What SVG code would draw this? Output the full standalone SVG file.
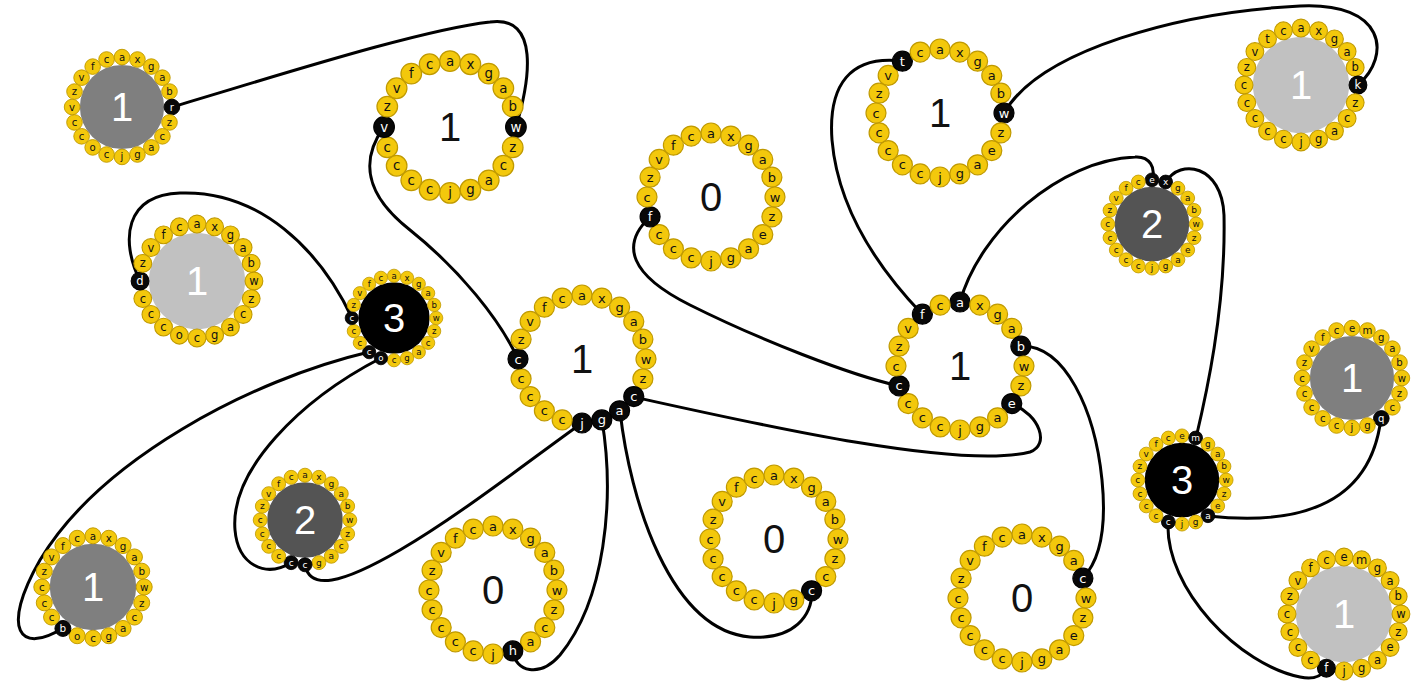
<svg xmlns="http://www.w3.org/2000/svg" width="1416" height="684" viewBox="0 0 1416 684">
<style>
.bd circle{fill:#f3c80c;stroke:#c09a00;stroke-width:1.2}
.bd text{font-family:'DejaVu Sans',Verdana,sans-serif;font-size:13px;text-anchor:middle;dominant-baseline:central;fill:#111}
.bd .k circle{fill:#080808;stroke:#000}
.bd .k text{fill:#fff}
.num{font-family:'Liberation Sans',Arial,sans-serif;font-size:40px;text-anchor:middle;dominant-baseline:central;fill:#111}
.wn{fill:#fff}
.d1{fill:#7f7f7f}.d2{fill:#c1c1c1}.d3{fill:#545454}.d4{fill:#000}
.edges path{fill:none;stroke:#000;stroke-width:3;stroke-linecap:round}
</style>
<rect width="1416" height="684" fill="#fff"/>
<g class="edges">
<path d="M172,107 C280,75 420,30 490,22 C540,15 530,80 516,127"/>
<path d="M384,127 C360,160 365,195 410,230 C460,270 500,320 518,359"/>
<path d="M140,281 C120,240 125,195 180,193 C260,190 320,250 352,318"/>
<path d="M369,352 C250,380 100,460 40,560 C0,630 20,655 63,628"/>
<path d="M381,358 C300,400 230,470 235,530 C238,565 265,578 291,563"/>
<path d="M305,565 C310,590 340,585 400,550 C460,515 530,460 582,423"/>
<path d="M602,420 C615,500 605,600 560,655 C540,678 515,672 513,651"/>
<path d="M620,411 C630,500 670,630 750,637 C795,640 812,615 812,591"/>
<path d="M634,397 C760,425 960,470 1030,452 C1050,445 1040,415 1012,404"/>
<path d="M650,217 C620,245 630,275 690,305 C760,340 850,375 899,386"/>
<path d="M902,61 C850,55 828,85 832,140 C838,210 880,270 922,314"/>
<path d="M1004,113 C1040,50 1180,12 1300,6 C1385,2 1392,55 1358,85"/>
<path d="M960,302 C980,230 1060,160 1135,157 C1150,156 1156,168 1152,180"/>
<path d="M1166,182 C1180,158 1222,165 1224,215 C1226,310 1205,400 1196,438"/>
<path d="M1021,346 C1065,345 1095,410 1102,480 C1107,530 1100,560 1083,578"/>
<path d="M1168,522 C1165,590 1240,665 1300,677 C1315,680 1322,676 1326,668"/>
<path d="M1208,516 C1290,525 1370,510 1381,418"/>
</g>

<g id="n1" transform="translate(122,107)">
<g transform="scale(0.78)"><circle class="d1" r="54"/>
<g class="bd">
<g transform="translate(0,-64)"><circle r="10"/><text>a</text></g>
<g transform="translate(19.8,-60.9)"><circle r="10"/><text>x</text></g>
<g transform="translate(37.6,-51.8)"><circle r="10"/><text>g</text></g>
<g transform="translate(51.8,-37.6)"><circle r="10"/><text>a</text></g>
<g transform="translate(60.9,-19.8)"><circle r="10"/><text>b</text></g>
<g class="k" transform="translate(64,0)"><circle r="10"/><text>r</text></g>
<g transform="translate(60.9,19.8)"><circle r="10"/><text>z</text></g>
<g transform="translate(51.8,37.6)"><circle r="10"/><text>c</text></g>
<g transform="translate(37.6,51.8)"><circle r="10"/><text>a</text></g>
<g transform="translate(19.8,60.9)"><circle r="10"/><text>g</text></g>
<g transform="translate(0,64)"><circle r="10"/><text>j</text></g>
<g transform="translate(-19.8,60.9)"><circle r="10"/><text>c</text></g>
<g transform="translate(-37.6,51.8)"><circle r="10"/><text>o</text></g>
<g transform="translate(-51.8,37.6)"><circle r="10"/><text>c</text></g>
<g transform="translate(-60.9,19.8)"><circle r="10"/><text>c</text></g>
<g transform="translate(-64,0)"><circle r="10"/><text>v</text></g>
<g transform="translate(-60.9,-19.8)"><circle r="10"/><text>z</text></g>
<g transform="translate(-51.8,-37.6)"><circle r="10"/><text>v</text></g>
<g transform="translate(-37.6,-51.8)"><circle r="10"/><text>f</text></g>
<g transform="translate(-19.8,-60.9)"><circle r="10"/><text>c</text></g>
</g></g>
<text class="num wn">1</text>
</g>

<g id="n2" transform="translate(450,127)">
<g transform="scale(1.03)">
<g class="bd">
<g transform="translate(0,-64)"><circle r="10"/><text>a</text></g>
<g transform="translate(19.8,-60.9)"><circle r="10"/><text>x</text></g>
<g transform="translate(37.6,-51.8)"><circle r="10"/><text>g</text></g>
<g transform="translate(51.8,-37.6)"><circle r="10"/><text>a</text></g>
<g transform="translate(60.9,-19.8)"><circle r="10"/><text>b</text></g>
<g class="k" transform="translate(64,0)"><circle r="10"/><text>w</text></g>
<g transform="translate(60.9,19.8)"><circle r="10"/><text>z</text></g>
<g transform="translate(51.8,37.6)"><circle r="10"/><text>c</text></g>
<g transform="translate(37.6,51.8)"><circle r="10"/><text>a</text></g>
<g transform="translate(19.8,60.9)"><circle r="10"/><text>g</text></g>
<g transform="translate(0,64)"><circle r="10"/><text>j</text></g>
<g transform="translate(-19.8,60.9)"><circle r="10"/><text>c</text></g>
<g transform="translate(-37.6,51.8)"><circle r="10"/><text>c</text></g>
<g transform="translate(-51.8,37.6)"><circle r="10"/><text>c</text></g>
<g transform="translate(-60.9,19.8)"><circle r="10"/><text>c</text></g>
<g class="k" transform="translate(-64,0)"><circle r="10"/><text>v</text></g>
<g transform="translate(-60.9,-19.8)"><circle r="10"/><text>z</text></g>
<g transform="translate(-51.8,-37.6)"><circle r="10"/><text>v</text></g>
<g transform="translate(-37.6,-51.8)"><circle r="10"/><text>f</text></g>
<g transform="translate(-19.8,-60.9)"><circle r="10"/><text>c</text></g>
</g></g>
<text class="num">1</text>
</g>

<g id="n3" transform="translate(197,281)">
<g transform="scale(0.89)"><circle class="d2" r="54"/>
<g class="bd">
<g transform="translate(0,-64)"><circle r="10"/><text>a</text></g>
<g transform="translate(19.8,-60.9)"><circle r="10"/><text>x</text></g>
<g transform="translate(37.6,-51.8)"><circle r="10"/><text>g</text></g>
<g transform="translate(51.8,-37.6)"><circle r="10"/><text>a</text></g>
<g transform="translate(60.9,-19.8)"><circle r="10"/><text>b</text></g>
<g transform="translate(64,0)"><circle r="10"/><text>w</text></g>
<g transform="translate(60.9,19.8)"><circle r="10"/><text>z</text></g>
<g transform="translate(51.8,37.6)"><circle r="10"/><text>c</text></g>
<g transform="translate(37.6,51.8)"><circle r="10"/><text>a</text></g>
<g transform="translate(19.8,60.9)"><circle r="10"/><text>g</text></g>
<g transform="translate(0,64)"><circle r="10"/><text>c</text></g>
<g transform="translate(-19.8,60.9)"><circle r="10"/><text>o</text></g>
<g transform="translate(-37.6,51.8)"><circle r="10"/><text>c</text></g>
<g transform="translate(-51.8,37.6)"><circle r="10"/><text>c</text></g>
<g transform="translate(-60.9,19.8)"><circle r="10"/><text>c</text></g>
<g class="k" transform="translate(-64,0)"><circle r="10"/><text>d</text></g>
<g transform="translate(-60.9,-19.8)"><circle r="10"/><text>z</text></g>
<g transform="translate(-51.8,-37.6)"><circle r="10"/><text>v</text></g>
<g transform="translate(-37.6,-51.8)"><circle r="10"/><text>f</text></g>
<g transform="translate(-19.8,-60.9)"><circle r="10"/><text>c</text></g>
</g></g>
<text class="num wn">1</text>
</g>

<g id="n4" transform="translate(394,318)">
<g transform="scale(0.66)"><circle class="d4" r="54"/>
<g class="bd">
<g transform="translate(0,-64)"><circle r="10"/><text>a</text></g>
<g transform="translate(19.8,-60.9)"><circle r="10"/><text>x</text></g>
<g transform="translate(37.6,-51.8)"><circle r="10"/><text>g</text></g>
<g transform="translate(51.8,-37.6)"><circle r="10"/><text>a</text></g>
<g transform="translate(60.9,-19.8)"><circle r="10"/><text>b</text></g>
<g transform="translate(64,0)"><circle r="10"/><text>w</text></g>
<g transform="translate(60.9,19.8)"><circle r="10"/><text>z</text></g>
<g transform="translate(51.8,37.6)"><circle r="10"/><text>c</text></g>
<g transform="translate(37.6,51.8)"><circle r="10"/><text>a</text></g>
<g transform="translate(19.8,60.9)"><circle r="10"/><text>g</text></g>
<g transform="translate(0,64)"><circle r="10"/><text>c</text></g>
<g class="k" transform="translate(-19.8,60.9)"><circle r="10"/><text>o</text></g>
<g class="k" transform="translate(-37.6,51.8)"><circle r="10"/><text>c</text></g>
<g transform="translate(-51.8,37.6)"><circle r="10"/><text>c</text></g>
<g transform="translate(-60.9,19.8)"><circle r="10"/><text>c</text></g>
<g class="k" transform="translate(-64,0)"><circle r="10"/><text>c</text></g>
<g transform="translate(-60.9,-19.8)"><circle r="10"/><text>z</text></g>
<g transform="translate(-51.8,-37.6)"><circle r="10"/><text>v</text></g>
<g transform="translate(-37.6,-51.8)"><circle r="10"/><text>f</text></g>
<g transform="translate(-19.8,-60.9)"><circle r="10"/><text>c</text></g>
</g></g>
<text class="num wn">3</text>
</g>

<g id="n5" transform="translate(582,359)">
<g class="bd">
<g transform="translate(0,-64)"><circle r="10"/><text>a</text></g>
<g transform="translate(19.8,-60.9)"><circle r="10"/><text>x</text></g>
<g transform="translate(37.6,-51.8)"><circle r="10"/><text>g</text></g>
<g transform="translate(51.8,-37.6)"><circle r="10"/><text>a</text></g>
<g transform="translate(60.9,-19.8)"><circle r="10"/><text>b</text></g>
<g transform="translate(64,0)"><circle r="10"/><text>w</text></g>
<g transform="translate(60.9,19.8)"><circle r="10"/><text>z</text></g>
<g class="k" transform="translate(51.8,37.6)"><circle r="10"/><text>c</text></g>
<g class="k" transform="translate(37.6,51.8)"><circle r="10"/><text>a</text></g>
<g class="k" transform="translate(19.8,60.9)"><circle r="10"/><text>g</text></g>
<g class="k" transform="translate(0,64)"><circle r="10"/><text>j</text></g>
<g transform="translate(-19.8,60.9)"><circle r="10"/><text>c</text></g>
<g transform="translate(-37.6,51.8)"><circle r="10"/><text>c</text></g>
<g transform="translate(-51.8,37.6)"><circle r="10"/><text>c</text></g>
<g transform="translate(-60.9,19.8)"><circle r="10"/><text>c</text></g>
<g class="k" transform="translate(-64,0)"><circle r="10"/><text>c</text></g>
<g transform="translate(-60.9,-19.8)"><circle r="10"/><text>z</text></g>
<g transform="translate(-51.8,-37.6)"><circle r="10"/><text>v</text></g>
<g transform="translate(-37.6,-51.8)"><circle r="10"/><text>f</text></g>
<g transform="translate(-19.8,-60.9)"><circle r="10"/><text>c</text></g>
</g>
<text class="num">1</text>
</g>

<g id="n6" transform="translate(93,587)">
<g transform="scale(0.8)"><circle class="d1" r="54"/>
<g class="bd">
<g transform="translate(0,-64)"><circle r="10"/><text>a</text></g>
<g transform="translate(19.8,-60.9)"><circle r="10"/><text>x</text></g>
<g transform="translate(37.6,-51.8)"><circle r="10"/><text>g</text></g>
<g transform="translate(51.8,-37.6)"><circle r="10"/><text>a</text></g>
<g transform="translate(60.9,-19.8)"><circle r="10"/><text>b</text></g>
<g transform="translate(64,0)"><circle r="10"/><text>w</text></g>
<g transform="translate(60.9,19.8)"><circle r="10"/><text>z</text></g>
<g transform="translate(51.8,37.6)"><circle r="10"/><text>c</text></g>
<g transform="translate(37.6,51.8)"><circle r="10"/><text>a</text></g>
<g transform="translate(19.8,60.9)"><circle r="10"/><text>g</text></g>
<g transform="translate(0,64)"><circle r="10"/><text>c</text></g>
<g transform="translate(-19.8,60.9)"><circle r="10"/><text>o</text></g>
<g class="k" transform="translate(-37.6,51.8)"><circle r="10"/><text>b</text></g>
<g transform="translate(-51.8,37.6)"><circle r="10"/><text>c</text></g>
<g transform="translate(-60.9,19.8)"><circle r="10"/><text>c</text></g>
<g transform="translate(-64,0)"><circle r="10"/><text>c</text></g>
<g transform="translate(-60.9,-19.8)"><circle r="10"/><text>z</text></g>
<g transform="translate(-51.8,-37.6)"><circle r="10"/><text>v</text></g>
<g transform="translate(-37.6,-51.8)"><circle r="10"/><text>f</text></g>
<g transform="translate(-19.8,-60.9)"><circle r="10"/><text>c</text></g>
</g></g>
<text class="num wn">1</text>
</g>

<g id="n7" transform="translate(305,520)">
<g transform="scale(0.70)"><circle class="d3" r="54"/>
<g class="bd">
<g transform="translate(0,-64)"><circle r="10"/><text>a</text></g>
<g transform="translate(19.8,-60.9)"><circle r="10"/><text>x</text></g>
<g transform="translate(37.6,-51.8)"><circle r="10"/><text>g</text></g>
<g transform="translate(51.8,-37.6)"><circle r="10"/><text>a</text></g>
<g transform="translate(60.9,-19.8)"><circle r="10"/><text>b</text></g>
<g transform="translate(64,0)"><circle r="10"/><text>w</text></g>
<g transform="translate(60.9,19.8)"><circle r="10"/><text>z</text></g>
<g transform="translate(51.8,37.6)"><circle r="10"/><text>c</text></g>
<g transform="translate(37.6,51.8)"><circle r="10"/><text>a</text></g>
<g transform="translate(19.8,60.9)"><circle r="10"/><text>g</text></g>
<g class="k" transform="translate(0,64)"><circle r="10"/><text>c</text></g>
<g class="k" transform="translate(-19.8,60.9)"><circle r="10"/><text>c</text></g>
<g transform="translate(-37.6,51.8)"><circle r="10"/><text>c</text></g>
<g transform="translate(-51.8,37.6)"><circle r="10"/><text>c</text></g>
<g transform="translate(-60.9,19.8)"><circle r="10"/><text>c</text></g>
<g transform="translate(-64,0)"><circle r="10"/><text>c</text></g>
<g transform="translate(-60.9,-19.8)"><circle r="10"/><text>z</text></g>
<g transform="translate(-51.8,-37.6)"><circle r="10"/><text>v</text></g>
<g transform="translate(-37.6,-51.8)"><circle r="10"/><text>f</text></g>
<g transform="translate(-19.8,-60.9)"><circle r="10"/><text>c</text></g>
</g></g>
<text class="num wn">2</text>
</g>

<g id="n8" transform="translate(493,590)">
<g class="bd">
<g transform="translate(0,-64)"><circle r="10"/><text>a</text></g>
<g transform="translate(19.8,-60.9)"><circle r="10"/><text>x</text></g>
<g transform="translate(37.6,-51.8)"><circle r="10"/><text>g</text></g>
<g transform="translate(51.8,-37.6)"><circle r="10"/><text>a</text></g>
<g transform="translate(60.9,-19.8)"><circle r="10"/><text>b</text></g>
<g transform="translate(64,0)"><circle r="10"/><text>w</text></g>
<g transform="translate(60.9,19.8)"><circle r="10"/><text>z</text></g>
<g transform="translate(51.8,37.6)"><circle r="10"/><text>c</text></g>
<g transform="translate(37.6,51.8)"><circle r="10"/><text>a</text></g>
<g class="k" transform="translate(19.8,60.9)"><circle r="10"/><text>h</text></g>
<g transform="translate(0,64)"><circle r="10"/><text>j</text></g>
<g transform="translate(-19.8,60.9)"><circle r="10"/><text>c</text></g>
<g transform="translate(-37.6,51.8)"><circle r="10"/><text>c</text></g>
<g transform="translate(-51.8,37.6)"><circle r="10"/><text>c</text></g>
<g transform="translate(-60.9,19.8)"><circle r="10"/><text>c</text></g>
<g transform="translate(-64,0)"><circle r="10"/><text>c</text></g>
<g transform="translate(-60.9,-19.8)"><circle r="10"/><text>z</text></g>
<g transform="translate(-51.8,-37.6)"><circle r="10"/><text>v</text></g>
<g transform="translate(-37.6,-51.8)"><circle r="10"/><text>f</text></g>
<g transform="translate(-19.8,-60.9)"><circle r="10"/><text>c</text></g>
</g>
<text class="num">0</text>
</g>

<g id="n9" transform="translate(774,539)">
<g class="bd">
<g transform="translate(0,-64)"><circle r="10"/><text>a</text></g>
<g transform="translate(19.8,-60.9)"><circle r="10"/><text>x</text></g>
<g transform="translate(37.6,-51.8)"><circle r="10"/><text>g</text></g>
<g transform="translate(51.8,-37.6)"><circle r="10"/><text>a</text></g>
<g transform="translate(60.9,-19.8)"><circle r="10"/><text>b</text></g>
<g transform="translate(64,0)"><circle r="10"/><text>w</text></g>
<g transform="translate(60.9,19.8)"><circle r="10"/><text>z</text></g>
<g transform="translate(51.8,37.6)"><circle r="10"/><text>c</text></g>
<g class="k" transform="translate(37.6,51.8)"><circle r="10"/><text>c</text></g>
<g transform="translate(19.8,60.9)"><circle r="10"/><text>g</text></g>
<g transform="translate(0,64)"><circle r="10"/><text>j</text></g>
<g transform="translate(-19.8,60.9)"><circle r="10"/><text>c</text></g>
<g transform="translate(-37.6,51.8)"><circle r="10"/><text>c</text></g>
<g transform="translate(-51.8,37.6)"><circle r="10"/><text>c</text></g>
<g transform="translate(-60.9,19.8)"><circle r="10"/><text>c</text></g>
<g transform="translate(-64,0)"><circle r="10"/><text>c</text></g>
<g transform="translate(-60.9,-19.8)"><circle r="10"/><text>z</text></g>
<g transform="translate(-51.8,-37.6)"><circle r="10"/><text>v</text></g>
<g transform="translate(-37.6,-51.8)"><circle r="10"/><text>f</text></g>
<g transform="translate(-19.8,-60.9)"><circle r="10"/><text>c</text></g>
</g>
<text class="num">0</text>
</g>

<g id="n10" transform="translate(711,197)">
<g class="bd">
<g transform="translate(0,-64)"><circle r="10"/><text>a</text></g>
<g transform="translate(19.8,-60.9)"><circle r="10"/><text>x</text></g>
<g transform="translate(37.6,-51.8)"><circle r="10"/><text>g</text></g>
<g transform="translate(51.8,-37.6)"><circle r="10"/><text>a</text></g>
<g transform="translate(60.9,-19.8)"><circle r="10"/><text>b</text></g>
<g transform="translate(64,0)"><circle r="10"/><text>w</text></g>
<g transform="translate(60.9,19.8)"><circle r="10"/><text>z</text></g>
<g transform="translate(51.8,37.6)"><circle r="10"/><text>e</text></g>
<g transform="translate(37.6,51.8)"><circle r="10"/><text>a</text></g>
<g transform="translate(19.8,60.9)"><circle r="10"/><text>g</text></g>
<g transform="translate(0,64)"><circle r="10"/><text>j</text></g>
<g transform="translate(-19.8,60.9)"><circle r="10"/><text>c</text></g>
<g transform="translate(-37.6,51.8)"><circle r="10"/><text>c</text></g>
<g transform="translate(-51.8,37.6)"><circle r="10"/><text>c</text></g>
<g class="k" transform="translate(-60.9,19.8)"><circle r="10"/><text>f</text></g>
<g transform="translate(-64,0)"><circle r="10"/><text>c</text></g>
<g transform="translate(-60.9,-19.8)"><circle r="10"/><text>z</text></g>
<g transform="translate(-51.8,-37.6)"><circle r="10"/><text>v</text></g>
<g transform="translate(-37.6,-51.8)"><circle r="10"/><text>f</text></g>
<g transform="translate(-19.8,-60.9)"><circle r="10"/><text>c</text></g>
</g>
<text class="num">0</text>
</g>

<g id="n11" transform="translate(940,113)">
<g class="bd">
<g transform="translate(0,-64)"><circle r="10"/><text>a</text></g>
<g transform="translate(19.8,-60.9)"><circle r="10"/><text>x</text></g>
<g transform="translate(37.6,-51.8)"><circle r="10"/><text>g</text></g>
<g transform="translate(51.8,-37.6)"><circle r="10"/><text>a</text></g>
<g transform="translate(60.9,-19.8)"><circle r="10"/><text>b</text></g>
<g class="k" transform="translate(64,0)"><circle r="10"/><text>w</text></g>
<g transform="translate(60.9,19.8)"><circle r="10"/><text>z</text></g>
<g transform="translate(51.8,37.6)"><circle r="10"/><text>e</text></g>
<g transform="translate(37.6,51.8)"><circle r="10"/><text>a</text></g>
<g transform="translate(19.8,60.9)"><circle r="10"/><text>g</text></g>
<g transform="translate(0,64)"><circle r="10"/><text>j</text></g>
<g transform="translate(-19.8,60.9)"><circle r="10"/><text>c</text></g>
<g transform="translate(-37.6,51.8)"><circle r="10"/><text>c</text></g>
<g transform="translate(-51.8,37.6)"><circle r="10"/><text>c</text></g>
<g transform="translate(-60.9,19.8)"><circle r="10"/><text>c</text></g>
<g transform="translate(-64,0)"><circle r="10"/><text>c</text></g>
<g transform="translate(-60.9,-19.8)"><circle r="10"/><text>z</text></g>
<g transform="translate(-51.8,-37.6)"><circle r="10"/><text>v</text></g>
<g class="k" transform="translate(-37.6,-51.8)"><circle r="10"/><text>t</text></g>
<g transform="translate(-19.8,-60.9)"><circle r="10"/><text>c</text></g>
</g>
<text class="num">1</text>
</g>

<g id="n12" transform="translate(1301,85)">
<g transform="scale(0.89)"><circle class="d2" r="54"/>
<g class="bd">
<g transform="translate(0,-64)"><circle r="10"/><text>a</text></g>
<g transform="translate(19.8,-60.9)"><circle r="10"/><text>x</text></g>
<g transform="translate(37.6,-51.8)"><circle r="10"/><text>g</text></g>
<g transform="translate(51.8,-37.6)"><circle r="10"/><text>a</text></g>
<g transform="translate(60.9,-19.8)"><circle r="10"/><text>b</text></g>
<g class="k" transform="translate(64,0)"><circle r="10"/><text>k</text></g>
<g transform="translate(60.9,19.8)"><circle r="10"/><text>z</text></g>
<g transform="translate(51.8,37.6)"><circle r="10"/><text>c</text></g>
<g transform="translate(37.6,51.8)"><circle r="10"/><text>a</text></g>
<g transform="translate(19.8,60.9)"><circle r="10"/><text>g</text></g>
<g transform="translate(0,64)"><circle r="10"/><text>j</text></g>
<g transform="translate(-19.8,60.9)"><circle r="10"/><text>c</text></g>
<g transform="translate(-37.6,51.8)"><circle r="10"/><text>c</text></g>
<g transform="translate(-51.8,37.6)"><circle r="10"/><text>c</text></g>
<g transform="translate(-60.9,19.8)"><circle r="10"/><text>c</text></g>
<g transform="translate(-64,0)"><circle r="10"/><text>c</text></g>
<g transform="translate(-60.9,-19.8)"><circle r="10"/><text>z</text></g>
<g transform="translate(-51.8,-37.6)"><circle r="10"/><text>v</text></g>
<g transform="translate(-37.6,-51.8)"><circle r="10"/><text>t</text></g>
<g transform="translate(-19.8,-60.9)"><circle r="10"/><text>c</text></g>
</g></g>
<text class="num wn">1</text>
</g>

<g id="n13" transform="translate(1152,224)">
<g transform="scale(0.69)"><circle class="d3" r="54"/>
<g class="bd">
<g class="k" transform="translate(0,-64)"><circle r="10"/><text>e</text></g>
<g class="k" transform="translate(19.8,-60.9)"><circle r="10"/><text>x</text></g>
<g transform="translate(37.6,-51.8)"><circle r="10"/><text>g</text></g>
<g transform="translate(51.8,-37.6)"><circle r="10"/><text>a</text></g>
<g transform="translate(60.9,-19.8)"><circle r="10"/><text>b</text></g>
<g transform="translate(64,0)"><circle r="10"/><text>w</text></g>
<g transform="translate(60.9,19.8)"><circle r="10"/><text>z</text></g>
<g transform="translate(51.8,37.6)"><circle r="10"/><text>e</text></g>
<g transform="translate(37.6,51.8)"><circle r="10"/><text>a</text></g>
<g transform="translate(19.8,60.9)"><circle r="10"/><text>g</text></g>
<g transform="translate(0,64)"><circle r="10"/><text>j</text></g>
<g transform="translate(-19.8,60.9)"><circle r="10"/><text>c</text></g>
<g transform="translate(-37.6,51.8)"><circle r="10"/><text>c</text></g>
<g transform="translate(-51.8,37.6)"><circle r="10"/><text>c</text></g>
<g transform="translate(-60.9,19.8)"><circle r="10"/><text>c</text></g>
<g transform="translate(-64,0)"><circle r="10"/><text>c</text></g>
<g transform="translate(-60.9,-19.8)"><circle r="10"/><text>z</text></g>
<g transform="translate(-51.8,-37.6)"><circle r="10"/><text>v</text></g>
<g transform="translate(-37.6,-51.8)"><circle r="10"/><text>f</text></g>
<g transform="translate(-19.8,-60.9)"><circle r="10"/><text>c</text></g>
</g></g>
<text class="num wn">2</text>
</g>

<g id="n14" transform="translate(960,366)">
<g class="bd">
<g class="k" transform="translate(0,-64)"><circle r="10"/><text>a</text></g>
<g transform="translate(19.8,-60.9)"><circle r="10"/><text>x</text></g>
<g transform="translate(37.6,-51.8)"><circle r="10"/><text>g</text></g>
<g transform="translate(51.8,-37.6)"><circle r="10"/><text>a</text></g>
<g class="k" transform="translate(60.9,-19.8)"><circle r="10"/><text>b</text></g>
<g transform="translate(64,0)"><circle r="10"/><text>w</text></g>
<g transform="translate(60.9,19.8)"><circle r="10"/><text>z</text></g>
<g class="k" transform="translate(51.8,37.6)"><circle r="10"/><text>e</text></g>
<g transform="translate(37.6,51.8)"><circle r="10"/><text>a</text></g>
<g transform="translate(19.8,60.9)"><circle r="10"/><text>g</text></g>
<g transform="translate(0,64)"><circle r="10"/><text>j</text></g>
<g transform="translate(-19.8,60.9)"><circle r="10"/><text>c</text></g>
<g transform="translate(-37.6,51.8)"><circle r="10"/><text>c</text></g>
<g transform="translate(-51.8,37.6)"><circle r="10"/><text>c</text></g>
<g class="k" transform="translate(-60.9,19.8)"><circle r="10"/><text>c</text></g>
<g transform="translate(-64,0)"><circle r="10"/><text>c</text></g>
<g transform="translate(-60.9,-19.8)"><circle r="10"/><text>z</text></g>
<g transform="translate(-51.8,-37.6)"><circle r="10"/><text>v</text></g>
<g class="k" transform="translate(-37.6,-51.8)"><circle r="10"/><text>f</text></g>
<g transform="translate(-19.8,-60.9)"><circle r="10"/><text>c</text></g>
</g>
<text class="num">1</text>
</g>

<g id="n15" transform="translate(1352,378)">
<g transform="scale(0.78)"><circle class="d1" r="54"/>
<g class="bd">
<g transform="translate(0,-64)"><circle r="10"/><text>e</text></g>
<g transform="translate(19.8,-60.9)"><circle r="10"/><text>m</text></g>
<g transform="translate(37.6,-51.8)"><circle r="10"/><text>g</text></g>
<g transform="translate(51.8,-37.6)"><circle r="10"/><text>a</text></g>
<g transform="translate(60.9,-19.8)"><circle r="10"/><text>b</text></g>
<g transform="translate(64,0)"><circle r="10"/><text>w</text></g>
<g transform="translate(60.9,19.8)"><circle r="10"/><text>z</text></g>
<g transform="translate(51.8,37.6)"><circle r="10"/><text>c</text></g>
<g class="k" transform="translate(37.6,51.8)"><circle r="10"/><text>q</text></g>
<g transform="translate(19.8,60.9)"><circle r="10"/><text>g</text></g>
<g transform="translate(0,64)"><circle r="10"/><text>j</text></g>
<g transform="translate(-19.8,60.9)"><circle r="10"/><text>c</text></g>
<g transform="translate(-37.6,51.8)"><circle r="10"/><text>c</text></g>
<g transform="translate(-51.8,37.6)"><circle r="10"/><text>c</text></g>
<g transform="translate(-60.9,19.8)"><circle r="10"/><text>c</text></g>
<g transform="translate(-64,0)"><circle r="10"/><text>c</text></g>
<g transform="translate(-60.9,-19.8)"><circle r="10"/><text>z</text></g>
<g transform="translate(-51.8,-37.6)"><circle r="10"/><text>v</text></g>
<g transform="translate(-37.6,-51.8)"><circle r="10"/><text>f</text></g>
<g transform="translate(-19.8,-60.9)"><circle r="10"/><text>c</text></g>
</g></g>
<text class="num wn">1</text>
</g>

<g id="n16" transform="translate(1182,480)">
<g transform="scale(0.69)"><circle class="d4" r="54"/>
<g class="bd">
<g transform="translate(0,-64)"><circle r="10"/><text>e</text></g>
<g class="k" transform="translate(19.8,-60.9)"><circle r="10"/><text>m</text></g>
<g transform="translate(37.6,-51.8)"><circle r="10"/><text>g</text></g>
<g transform="translate(51.8,-37.6)"><circle r="10"/><text>a</text></g>
<g transform="translate(60.9,-19.8)"><circle r="10"/><text>b</text></g>
<g transform="translate(64,0)"><circle r="10"/><text>w</text></g>
<g transform="translate(60.9,19.8)"><circle r="10"/><text>z</text></g>
<g transform="translate(51.8,37.6)"><circle r="10"/><text>e</text></g>
<g class="k" transform="translate(37.6,51.8)"><circle r="10"/><text>a</text></g>
<g transform="translate(19.8,60.9)"><circle r="10"/><text>g</text></g>
<g transform="translate(0,64)"><circle r="10"/><text>j</text></g>
<g class="k" transform="translate(-19.8,60.9)"><circle r="10"/><text>c</text></g>
<g transform="translate(-37.6,51.8)"><circle r="10"/><text>c</text></g>
<g transform="translate(-51.8,37.6)"><circle r="10"/><text>c</text></g>
<g transform="translate(-60.9,19.8)"><circle r="10"/><text>c</text></g>
<g transform="translate(-64,0)"><circle r="10"/><text>c</text></g>
<g transform="translate(-60.9,-19.8)"><circle r="10"/><text>z</text></g>
<g transform="translate(-51.8,-37.6)"><circle r="10"/><text>v</text></g>
<g transform="translate(-37.6,-51.8)"><circle r="10"/><text>f</text></g>
<g transform="translate(-19.8,-60.9)"><circle r="10"/><text>c</text></g>
</g></g>
<text class="num wn">3</text>
</g>

<g id="n17" transform="translate(1022,598)">
<g class="bd">
<g transform="translate(0,-64)"><circle r="10"/><text>a</text></g>
<g transform="translate(19.8,-60.9)"><circle r="10"/><text>x</text></g>
<g transform="translate(37.6,-51.8)"><circle r="10"/><text>g</text></g>
<g transform="translate(51.8,-37.6)"><circle r="10"/><text>a</text></g>
<g class="k" transform="translate(60.9,-19.8)"><circle r="10"/><text>c</text></g>
<g transform="translate(64,0)"><circle r="10"/><text>w</text></g>
<g transform="translate(60.9,19.8)"><circle r="10"/><text>z</text></g>
<g transform="translate(51.8,37.6)"><circle r="10"/><text>e</text></g>
<g transform="translate(37.6,51.8)"><circle r="10"/><text>a</text></g>
<g transform="translate(19.8,60.9)"><circle r="10"/><text>g</text></g>
<g transform="translate(0,64)"><circle r="10"/><text>j</text></g>
<g transform="translate(-19.8,60.9)"><circle r="10"/><text>c</text></g>
<g transform="translate(-37.6,51.8)"><circle r="10"/><text>c</text></g>
<g transform="translate(-51.8,37.6)"><circle r="10"/><text>c</text></g>
<g transform="translate(-60.9,19.8)"><circle r="10"/><text>c</text></g>
<g transform="translate(-64,0)"><circle r="10"/><text>c</text></g>
<g transform="translate(-60.9,-19.8)"><circle r="10"/><text>z</text></g>
<g transform="translate(-51.8,-37.6)"><circle r="10"/><text>v</text></g>
<g transform="translate(-37.6,-51.8)"><circle r="10"/><text>f</text></g>
<g transform="translate(-19.8,-60.9)"><circle r="10"/><text>c</text></g>
</g>
<text class="num">0</text>
</g>

<g id="n18" transform="translate(1344,614)">
<g transform="scale(0.89)"><circle class="d2" r="54"/>
<g class="bd">
<g transform="translate(0,-64)"><circle r="10"/><text>e</text></g>
<g transform="translate(19.8,-60.9)"><circle r="10"/><text>m</text></g>
<g transform="translate(37.6,-51.8)"><circle r="10"/><text>g</text></g>
<g transform="translate(51.8,-37.6)"><circle r="10"/><text>a</text></g>
<g transform="translate(60.9,-19.8)"><circle r="10"/><text>b</text></g>
<g transform="translate(64,0)"><circle r="10"/><text>w</text></g>
<g transform="translate(60.9,19.8)"><circle r="10"/><text>z</text></g>
<g transform="translate(51.8,37.6)"><circle r="10"/><text>e</text></g>
<g transform="translate(37.6,51.8)"><circle r="10"/><text>a</text></g>
<g transform="translate(19.8,60.9)"><circle r="10"/><text>g</text></g>
<g transform="translate(0,64)"><circle r="10"/><text>j</text></g>
<g class="k" transform="translate(-19.8,60.9)"><circle r="10"/><text>f</text></g>
<g transform="translate(-37.6,51.8)"><circle r="10"/><text>c</text></g>
<g transform="translate(-51.8,37.6)"><circle r="10"/><text>c</text></g>
<g transform="translate(-60.9,19.8)"><circle r="10"/><text>c</text></g>
<g transform="translate(-64,0)"><circle r="10"/><text>c</text></g>
<g transform="translate(-60.9,-19.8)"><circle r="10"/><text>z</text></g>
<g transform="translate(-51.8,-37.6)"><circle r="10"/><text>v</text></g>
<g transform="translate(-37.6,-51.8)"><circle r="10"/><text>f</text></g>
<g transform="translate(-19.8,-60.9)"><circle r="10"/><text>c</text></g>
</g></g>
<text class="num wn">1</text>
</g>
</svg>
